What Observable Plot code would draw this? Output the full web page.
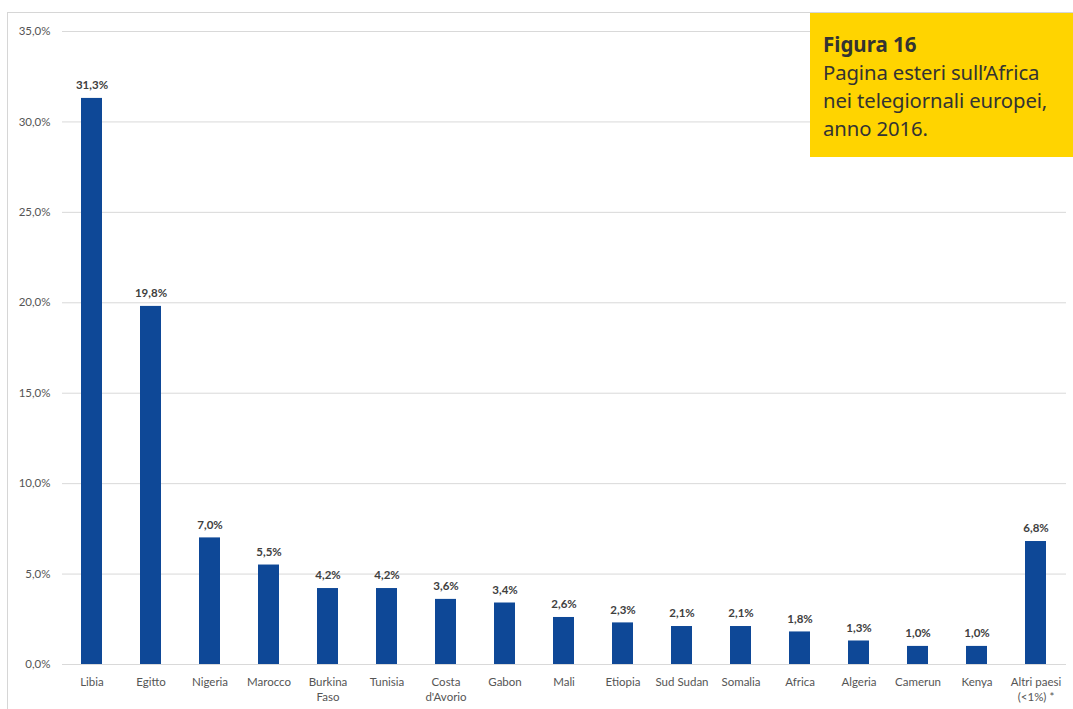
<!DOCTYPE html>
<html>
<head>
<meta charset="utf-8">
<script src="https://cdn.jsdelivr.net/npm/d3@7"></script>
<script src="https://cdn.jsdelivr.net/npm/@observablehq/plot@0.6"></script>
<style>
  html, body { margin: 0; padding: 0; background: #fff; }
  #wrap { position: relative; width: 1073px; height: 709px; overflow: hidden; }
  #frame { position: absolute; left: 7px; top: 12px; right: 0; bottom: -5px;
           border-top: 1px solid #d6d6d6; border-left: 1px solid #d6d6d6; pointer-events: none; }
  #chart { position: absolute; left: 0; top: 0; }
  #note { position: absolute; left: 810px; top: 13px; width: 263px; height: 144px;
          background: #ffd400; color: #333; font-family: "Noto Sans", sans-serif;
          box-sizing: border-box; padding: 18px 0 0 13px; }
  #note .t { font-weight: bold; font-size: 20.5px; line-height: 27px; }
  #note .s { font-size: 20.3px; line-height: 28px; letter-spacing: -0.1px; }
</style>
</head>
<body>
<div id="wrap">
  <div id="chart"></div>
  <div id="frame"></div>
  <div id="note">
    <div class="t">Figura 16</div>
    <div class="s">Pagina esteri sull’Africa<br>nei telegiornali europei,<br>anno 2016.</div>
  </div>
</div>
<script>
// Country labels (multi-line where the axis wraps them)
const countries = [
  "Libia", "Egitto", "Nigeria", "Marocco", "Burkina\nFaso", "Tunisia",
  "Costa\nd'Avorio", "Gabon", "Mali", "Etiopia", "Sud Sudan", "Somalia",
  "Africa", "Algeria", "Camerun", "Kenya", "Altri paesi\n(<1%) *"
];
// Share of Africa-related foreign news, percent
const shares = [31.3, 19.8, 7.0, 5.5, 4.2, 4.2, 3.6, 3.4, 2.6, 2.3, 2.1, 2.1, 1.8, 1.3, 1.0, 1.0, 6.8];
const yTicks = [0, 5, 10, 15, 20, 25, 30, 35];

const data = countries.map((c, i) => ({country: c, value: shares[i]}));
const pct = d => d.toFixed(1).replace(".", ",") + "%";

const chart = Plot.plot({
  width: 1073,
  height: 709,
  marginTop: 31,
  marginBottom: 45,
  marginLeft: 62,
  marginRight: 7,
  style: {fontFamily: "Lato, sans-serif", fontSize: "11px", color: "#595959", background: "transparent"},
  x: {domain: countries, paddingInner: 0.64, paddingOuter: 0.32, label: null},
  y: {domain: [0, 35], label: null},
  marks: [
    Plot.gridY(yTicks, {stroke: "#d9d9d9", strokeOpacity: 1}),
    Plot.axisY(yTicks, {tickSize: 0, tickPadding: 12, tickFormat: pct, fontSize: 11.5, fill: "#555", label: null}),
    Plot.axisX({tickSize: 0, tickPadding: 10, fontSize: 11.5, fill: "#555", label: null, lineHeight: 1.35}),
    Plot.barY(data, {x: "country", y: "value", fill: "#0e4897"}),
    Plot.text(data, {x: "country", y: "value", text: d => pct(d.value), dy: -13,
      fontWeight: "bold", fontSize: 11.5, fill: "#404040"})
  ]
});
document.getElementById("chart").appendChild(chart);
</script>
</body>
</html>
